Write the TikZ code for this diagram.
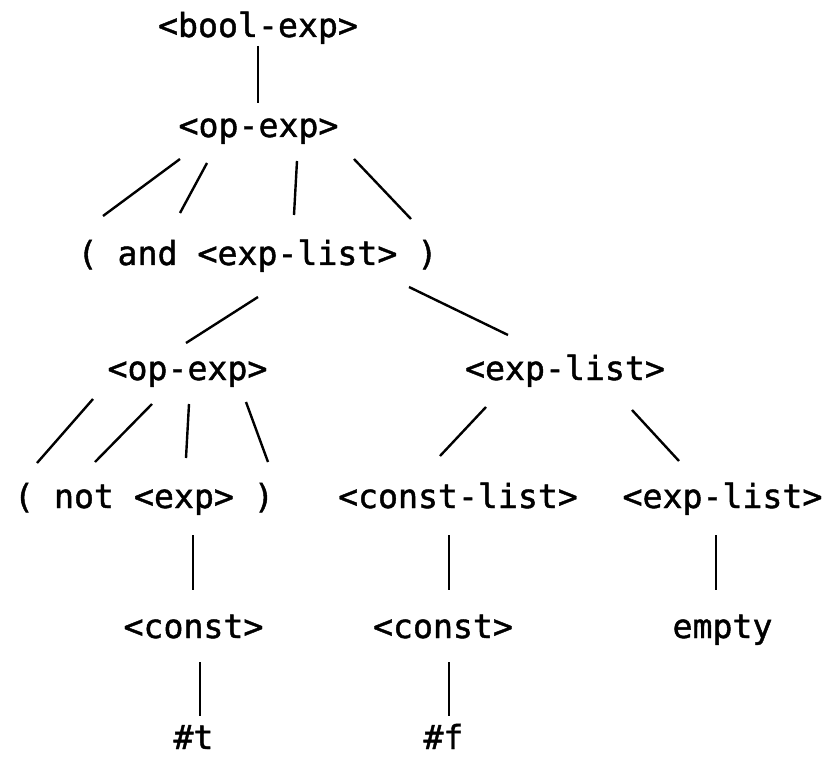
\documentclass[tikz,border=0pt]{standalone}
\usepackage{fontspec}
\newfontfamily\treemono[FakeBold=1.3]{DejaVu Sans Mono}
\begin{document}
\begin{tikzpicture}[x=1pt,y=-1pt,
  tok/.style={anchor=base,inner sep=0pt,outer sep=0pt,font=\treemono\fontsize{33.2}{40}\selectfont},
  edge/.style={line width=2.4pt,line cap=butt}]
\useasboundingbox[fill=white] (0,0) rectangle (828,757);
% nodes
\node[tok] (bool)   at (258,37)  {<bool-exp>};
\node[tok] (op1)    at (258.5,137) {<op-exp>};
\node[tok] (androw) at (257.5,265) {( and <exp-list> )};
\node[tok] (op2)    at (187.5,380) {<op-exp>};
\node[tok] (el1)    at (565,380) {<exp-list>};
\node[tok] (notrow) at (144,508) {( not <exp> )};
\node[tok] (cl)     at (458,508) {<const-list>};
\node[tok] (el2)    at (722.5,508) {<exp-list>};
\node[tok] (c1)     at (193.5,638) {<const>};
\node[tok] (c2)     at (443,638) {<const>};
\node[tok] (emp)    at (722.5,638) {empty};
\node[tok] (t)      at (193.5,749) {\#t};
\node[tok] (f)      at (443.5,749) {\#f};
% edge end points
\coordinate (b-op1)  at (258,46);   \coordinate (op1-b)  at (258,103);
\coordinate (op1-l1) at (180,159);  \coordinate (l1)     at (103,216);
\coordinate (op1-l2) at (207,163);  \coordinate (l2)     at (180,213);
\coordinate (op1-l3) at (297,161);  \coordinate (l3)     at (294,215);
\coordinate (op1-l4) at (354,159);  \coordinate (l4)     at (411,219);
\coordinate (and-op2) at (258,297); \coordinate (op2-t)  at (186,343);
\coordinate (and-el1) at (409,287); \coordinate (el1-t)  at (508,335);
\coordinate (op2-m1) at (93,399);   \coordinate (m1)     at (37,463);
\coordinate (op2-m2) at (152,404);  \coordinate (m2)     at (95,462);
\coordinate (op2-m3) at (189,404);  \coordinate (m3)     at (186,458);
\coordinate (op2-m4) at (246,402);  \coordinate (m4)     at (268,462);
\coordinate (el1-a)  at (486,407);  \coordinate (cl-t)   at (440,456);
\coordinate (el1-b)  at (632,410);  \coordinate (el2-t)  at (679,461);
\coordinate (not-c1) at (193,535);  \coordinate (c1-t)   at (193,590);
\coordinate (cl-c2)  at (449,535);  \coordinate (c2-t)   at (449,590);
\coordinate (el2-e)  at (716,535);  \coordinate (emp-t)  at (716,590);
\coordinate (c1-tt)  at (200,662);  \coordinate (t-t)    at (200,716);
\coordinate (c2-ff)  at (449,662);  \coordinate (f-t)    at (449,716);
% edges
\draw[edge] (b-op1) -- (op1-b);
\draw[edge] (op1-l1) -- (l1);
\draw[edge] (op1-l2) -- (l2);
\draw[edge] (op1-l3) -- (l3);
\draw[edge] (op1-l4) -- (l4);
\draw[edge] (and-op2) -- (op2-t);
\draw[edge] (and-el1) -- (el1-t);
\draw[edge] (op2-m1) -- (m1);
\draw[edge] (op2-m2) -- (m2);
\draw[edge] (op2-m3) -- (m3);
\draw[edge] (op2-m4) -- (m4);
\draw[edge] (el1-a) -- (cl-t);
\draw[edge] (el1-b) -- (el2-t);
\draw[edge] (not-c1) -- (c1-t);
\draw[edge] (cl-c2) -- (c2-t);
\draw[edge] (el2-e) -- (emp-t);
\draw[edge] (c1-tt) -- (t-t);
\draw[edge] (c2-ff) -- (f-t);
\end{tikzpicture}
\end{document}
